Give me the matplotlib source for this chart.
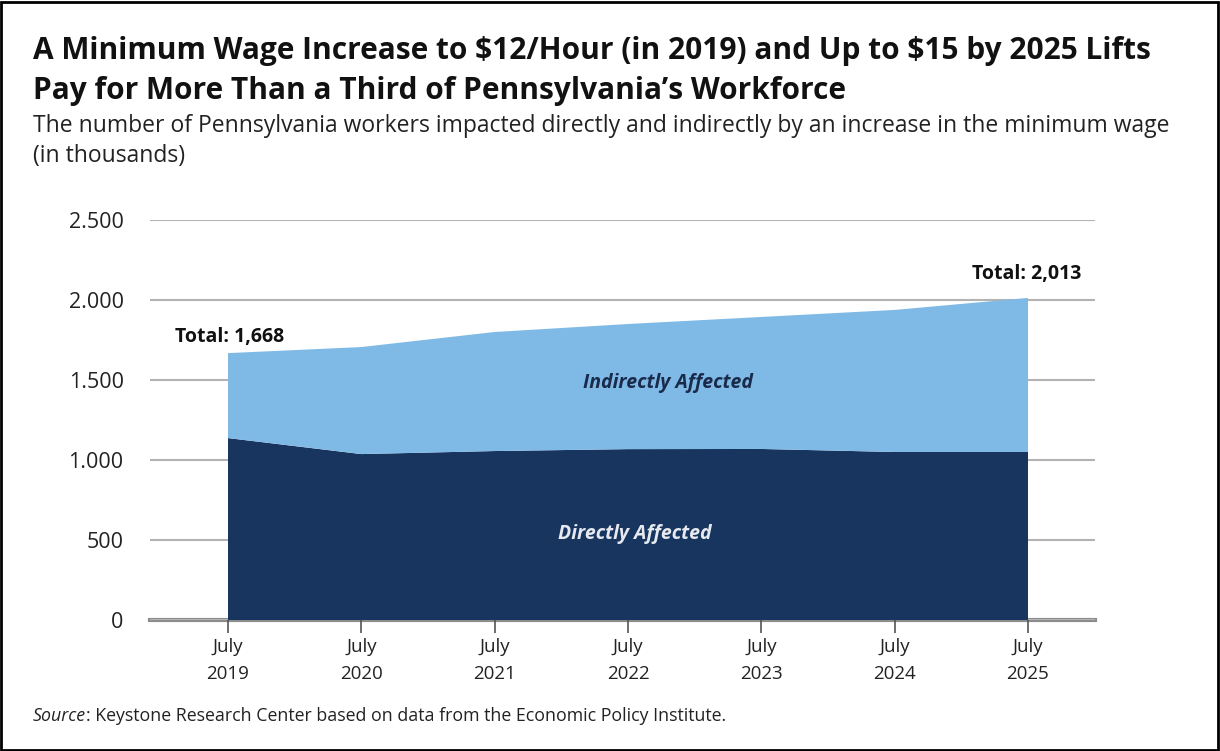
import matplotlib.pyplot as plt
from matplotlib.patches import Rectangle

# data (thousands of workers)
years = [2019, 2020, 2021, 2022, 2023, 2024, 2025]
tick_labels = ['July\n2019', 'July\n2020', 'July\n2021', 'July\n2022',
               'July\n2023', 'July\n2024', 'July\n2025']
direct = [1137, 1037, 1056, 1068, 1069, 1050, 1050]
total = [1668, 1706, 1800, 1850, 1894, 1938, 2013]
indirect = [t - d for t, d in zip(total, direct)]
y_ticks = [0, 500, 1000, 1500, 2000, 2500]
y_labels = ['0', '500', '1.000', '1.500', '2.000', '2.500']

dark, light, grid = '#17355f', '#7fbae6', '#b3b3b3'
plt.rcParams['font.family'] = ['Open Sans', 'DejaVu Sans']
plt.rcParams['text.parse_math'] = False

fig = plt.figure(figsize=(12.2, 7.51), dpi=100)
ax = fig.add_axes([150 / 1220, 1 - 620 / 751, 945 / 1220, 400 / 751])

ax.stackplot(years, direct, indirect, colors=[dark, light], linewidth=0)

ax.set_xlim(2019 - 78 / 133.3, 2025 + 67 / 133.3)
ax.set_ylim(0, 2500)
ax.set_yticks(y_ticks, y_labels)
ax.set_xticks(years, tick_labels)
ax.grid(axis='y', color=grid, linewidth=1.5)
ax.set_axisbelow(True)
for s in ['top', 'right', 'left']:
    ax.spines[s].set_visible(False)
ax.spines['bottom'].set_color('#8c8c8c')
ax.spines['bottom'].set_linewidth(3)
ax.spines['bottom'].set_zorder(0.5)
ax.tick_params(axis='y', length=0, pad=19, labelsize=15.5, labelcolor='#222222')
ax.tick_params(axis='x', length=9, width=1.2, color='#555555', pad=4,
               labelsize=13.5, labelcolor='#222222')
for lbl in ax.get_xticklabels():
    lbl.set_linespacing(1.65)

ax.text(years[0] - 0.4, total[0] + 40, f'Total: {total[0]:,}', fontsize=14,
        fontweight='bold', ha='left', va='bottom', color='#111111')
ax.text(years[-1] + 0.4, total[-1] + 90, f'Total: {total[-1]:,}', fontsize=14,
        fontweight='bold', ha='right', va='bottom', color='#111111')
ax.text(2022.3, 1480, 'Indirectly Affected', fontsize=14, fontweight='bold',
        style='italic', ha='center', va='center', color='#1a2a4a')
ax.text(2022.05, 540, 'Directly Affected', fontsize=14, fontweight='bold',
        style='italic', ha='center', va='center', color='#e6eaf0')

fig.text(33 / 1220, 1 - 71 / 751,
         'A Minimum Wage Increase to $12/Hour (in 2019) and Up to $15 by 2025 Lifts\n'
         'Pay for More Than a Third of Pennsylvania\u2019s Workforce',
         fontsize=21.5, fontweight='bold', ha='left', va='center',
         linespacing=1.42, color='#111111')
fig.text(33 / 1220, 1 - 141 / 751,
         'The number of Pennsylvania workers impacted directly and indirectly by an increase in the minimum wage\n'
         '(in thousands)',
         fontsize=16.5, ha='left', va='center', linespacing=1.35, color='#222222')
src = fig.text(33 / 1220, 1 - 716 / 751, 'Source', style='italic', fontsize=12.8,
               ha='left', va='center', color='#222222')
fig.canvas.draw()
x_end = src.get_window_extent().x1 / fig.bbox.width
fig.text(x_end, 1 - 716 / 751,
         ': Keystone Research Center based on data from the Economic Policy Institute.',
         fontsize=12.8, ha='left', va='center', color='#222222')

fig.patches.append(Rectangle((0.001, 0.001), 0.997, 0.997, transform=fig.transFigure,
                             fill=False, edgecolor='black', linewidth=2))

fig.savefig('out.png', dpi=100)
